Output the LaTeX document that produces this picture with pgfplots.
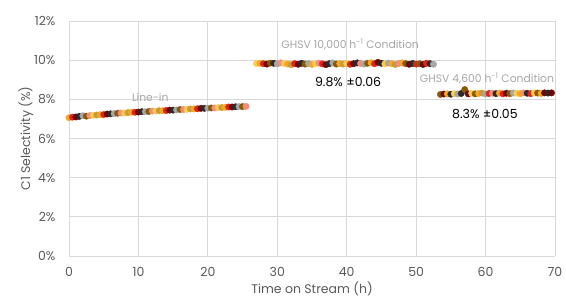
\documentclass[border=0pt]{standalone}
\usepackage{pgfplots}
\pgfplotsset{compat=1.18}
\usepackage{pgfplotstable}
\usepackage{fontspec}
\setmainfont{Poppins}
\definecolor{cA}{HTML}{F5A623}
\definecolor{cB}{HTML}{E0241B}
\definecolor{cC}{HTML}{6B0A0A}
\definecolor{cD}{HTML}{2B2B2B}
\definecolor{cE}{HTML}{A6A6A6}
\definecolor{cF}{HTML}{8A5A00}
\definecolor{cG}{HTML}{F28C7C}
\definecolor{cH}{HTML}{FFCC4D}
\definecolor{cI}{HTML}{C99A3A}
\definecolor{gridc}{HTML}{D9D9D9}
\definecolor{txt}{HTML}{595959}
\pgfplotstableread{
x y c
0 7.06 a
0.5 7.09 b
1 7.10 c
1.5 7.13 d
2 7.16 e
2.5 7.14 f
3 7.17 g
3.5 7.19 h
4 7.20 i
4.5 7.22 a
5 7.22 b
5.5 7.25 c
6 7.26 d
6.5 7.27 e
7 7.29 f
7.5 7.30 g
8 7.30 h
8.5 7.32 i
9 7.34 a
9.5 7.34 b
10 7.35 c
10.5 7.37 d
11 7.37 e
11.5 7.38 f
12 7.40 g
12.5 7.40 h
13 7.42 i
13.5 7.42 a
14 7.43 b
14.5 7.45 c
15 7.45 d
15.5 7.46 e
16 7.48 f
16.5 7.48 g
17 7.49 h
17.5 7.51 i
18 7.51 a
18.5 7.52 b
19 7.54 c
19.5 7.54 d
20 7.55 e
20.5 7.56 f
21 7.56 g
21.5 7.58 h
22 7.58 i
22.5 7.59 a
23 7.61 b
23.5 7.61 c
24 7.62 d
24.5 7.63 e
25 7.63 f
25.5 7.64 g
27 9.83 h
27.5 9.84 a
28 9.82 b
28.5 9.80 c
29 9.85 f
29.5 9.84 d
30 9.81 e
30.5 9.86 g
31 9.83 h
31.5 9.80 a
32 9.77 i
32.5 9.82 b
33 9.79 c
33.5 9.84 d
34 9.80 f
34.5 9.83 e
35 9.78 a
35.5 9.82 h
36 9.85 g
36.5 9.81 b
37 9.77 c
37.5 9.82 d
38 9.86 e
38.5 9.80 f
39 9.83 a
39.5 9.80 i
40 9.84 h
40.5 9.79 b
41 9.82 c
41.5 9.86 d
42 9.83 g
42.5 9.80 e
43 9.84 f
43.5 9.87 a
44 9.82 b
44.5 9.89 c
45 9.84 d
45.5 9.81 h
46 9.85 e
46.5 9.82 a
47 9.78 i
47.5 9.83 g
48 9.86 a
48.5 9.82 f
49 9.79 c
49.5 9.83 d
50 9.80 b
50.5 9.82 f
51 9.78 c
51.5 9.84 b
52 9.82 d
52.5 9.79 e
53.5 8.25 f
54 8.27 c
54.5 8.28 a
55 8.26 d
55.5 8.29 h
56 8.27 e
56.5 8.30 d
57 8.50 f
57.5 8.28 c
58 8.31 h
58.5 8.28 f
59 8.30 a
59.5 8.32 i
60 8.27 e
60.5 8.30 b
61 8.31 g
61.5 8.29 d
62 8.32 a
62.5 8.28 b
63 8.31 c
63.5 8.29 f
64 8.32 e
64.5 8.31 h
65 8.29 a
65.5 8.33 g
66 8.31 d
66.5 8.29 b
67 8.33 h
67.5 8.32 f
68 8.30 a
68.5 8.33 c
69 8.32 d
69.5 8.33 c
}\datatable
\begin{document}
\begin{tikzpicture}
\begin{axis}[
  scale only axis,
  width=486pt, height=235pt,
  xmin=0, xmax=70, ymin=0, ymax=12,
  xtick={0,10,...,70}, ytick={0,2,...,12},
  yticklabel={\pgfmathprintnumber{\tick}\%},
  /pgf/number format/assume math mode=true,
  axis line style={draw=none},
  major tick length=0pt,
  grid=major,
  grid style={gridc, line width=0.8pt},
  tick label style={font=\fontsize{12.5}{14}\selectfont, text=txt},
  xticklabel style={yshift=-8pt},
  yticklabel style={xshift=-10pt},
  xlabel={Time on Stream (h)},
  ylabel={C1 Selectivity (\%)},
  label style={font=\fontsize{12.5}{14}\selectfont, text=txt},
  xlabel style={yshift=2pt},
  ylabel style={yshift=-6pt},
  clip=false,
]
\coordinate (sw) at (rel axis cs:0,0);
\coordinate (ne) at (rel axis cs:1,1);
\addplot[scatter, only marks, scatter src=explicit symbolic,
  scatter/classes={
    a={mark=*, mark size=3.2pt, draw=cA, fill=cA},
    b={mark=*, mark size=3.2pt, draw=cB, fill=cB},
    c={mark=*, mark size=3.2pt, draw=cC, fill=cC},
    d={mark=*, mark size=3.2pt, draw=cD, fill=cD},
    e={mark=*, mark size=3.2pt, draw=cE, fill=cE},
    f={mark=*, mark size=3.2pt, draw=cF, fill=cF},
    g={mark=*, mark size=3.2pt, draw=cG, fill=cG},
    h={mark=*, mark size=3.2pt, draw=cH, fill=cH},
    i={mark=*, mark size=3.2pt, draw=cI, fill=cI}}]
  table[x=x, y=y, meta=c]{\datatable};
\node[text=cE, font=\fontsize{10.8}{12}\selectfont] at (axis cs:11.7,8.1) {Line-in};
\node[text=cE, font=\fontsize{10.8}{12}\selectfont] at (axis cs:40.5,10.8) {GHSV 10,000 h\textsuperscript{-1} Condition};
\node[text=black, font=\fontsize{12.5}{14}\selectfont] at (axis cs:40.2,8.9) {9.8\% ±0.06};
\node[text=cE, font=\fontsize{10.8}{12}\selectfont] at (axis cs:60.2,9.05) {GHSV 4,600 h\textsuperscript{-1} Condition};
\node[text=black, font=\fontsize{12.5}{14}\selectfont] at (axis cs:59.9,7.25) {8.3\% ±0.05};
\end{axis}
\path ([shift={(-69pt,-44pt)}]sw) rectangle ([shift={(11pt,21pt)}]ne);
\end{tikzpicture}
\end{document}
